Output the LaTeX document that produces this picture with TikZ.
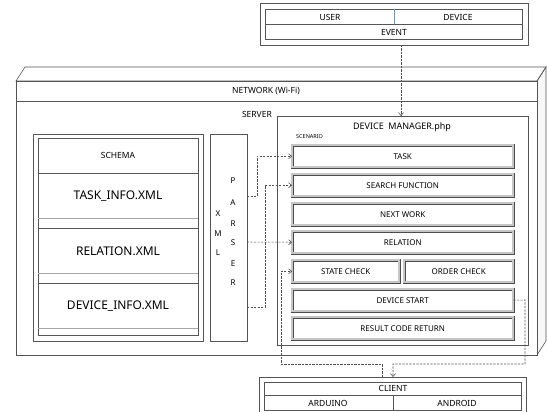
\documentclass[tikz,border=0pt]{standalone}
\usepackage{fontspec}
\setmainfont{Noto Sans}
\usetikzlibrary{arrows.meta}
\definecolor{lineC}{RGB}{85,85,85}
\definecolor{dashC}{RGB}{80,80,80}
\tikzset{
  box/.style={draw=lineC, line width=0.6pt, inner sep=0pt, anchor=north west},
  btn/.style={draw=black!70, double=gray!45, double distance=1.7pt, line width=0.5pt, inner sep=0pt, anchor=north west, minimum height=22pt, font=\fontsize{8}{9}\selectfont},
  lbl/.style={inner sep=0pt, font=\fontsize{8.5}{10}\selectfont, text=black},
  big/.style={inner sep=0pt, font=\fontsize{12}{14}\selectfont, text=black},
  conn/.style={draw=dashC, dash pattern=on 2.2pt off 1.3pt, line width=0.55pt},
  arr/.style={-{Straight Barb[length=3pt,width=5pt]}}
}
\begin{document}
\begin{tikzpicture}[x=1pt,y=-1pt]
\useasboundingbox (0,0) rectangle (547,412);
% EVENT box
\node[box, minimum width=268pt, minimum height=42pt] (evout) at (260,3) {};
\node[box, minimum width=257pt, minimum height=30pt] (evin) at (265,9) {};
\coordinate (evdl) at (265,24); \coordinate (evdr) at (522,24);
\draw[lineC, line width=0.6pt] (evdl) -- (evdr);
\coordinate (evvt) at (394,9); \coordinate (evvb) at (394,24);
\draw[color={rgb,255:red,100;green,150;blue,200}, line width=0.6pt] (evvt) -- (evvb);
\node[lbl] (user) at (330,17) {USER};
\node[lbl] (device) at (458,17) {DEVICE};
\node[lbl] (event) at (394,32) {EVENT};
% NETWORK 3D box
\coordinate (nfa) at (16,81); \coordinate (nfb) at (537,81);
\coordinate (nfc) at (537,355); \coordinate (nfd) at (16,355);
\coordinate (nba) at (25,67); \coordinate (nbb) at (546,67); \coordinate (nbc) at (546,341);
\draw[lineC, line width=0.6pt, fill=gray!6] (nfb) -- (nbb) -- (nbc) -- (nfc) -- cycle;
\draw[lineC, line width=0.6pt] (nfa) -- (nba) -- (nbb) -- (nfb) -- cycle;
\draw[lineC, line width=0.6pt, fill=white] (nfa) rectangle (nfc);
\coordinate (ndl) at (16,101); \coordinate (ndr) at (537,101);
\draw[lineC, line width=0.6pt] (ndl) -- (ndr);
\node[lbl] (network) at (266,91) {NETWORK (Wi-Fi)};
\node[lbl, anchor=east] (server) at (272,114) {SERVER};
% SCHEMA
\node[box, minimum width=170pt, minimum height=207pt] (schout) at (33,134) {};
\node[box, minimum width=160pt, minimum height=197pt] (schin) at (38,138) {};
\foreach \yy/\cc in {173/lineC,218/gray!70,228/lineC,273/gray!70,283/lineC,328/gray!70}{
  \draw[\cc, line width=0.6pt] (38,\yy) -- (198,\yy);
}
\node[lbl] (schema) at (118,155) {SCHEMA};
\node[big] (taskinfo) at (118,196) {TASK\_INFO.XML};
\node[big] (relxml) at (118,251) {RELATION.XML};
\node[big] (devinfo) at (118,306) {DEVICE\_INFO.XML};
% PARSER
\node[box, minimum width=37pt, minimum height=207pt] (parser) at (210,134) {};
\foreach \ch/\yy [count=\i] in {X/214,M/234,L/253}{
  \node[lbl, font=\fontsize{8}{9}\selectfont] (xml\i) at (218,\yy) {\ch};
}
\foreach \ch/\yy [count=\i] in {P/181,A/203,R/224,S/243,E/264,R/283}{
  \node[lbl, font=\fontsize{8}{9}\selectfont] (par\i) at (233,\yy) {\ch};
}
% DEVICE MANAGER
\node[box, minimum width=251pt, minimum height=229pt] (dm) at (277,116) {};
\node[lbl, font=\fontsize{9}{11}\selectfont] (dmt) at (402,127) {DEVICE\ \ MANAGER.php};
\node[lbl, anchor=west, font=\fontsize{5.5}{6}\selectfont] (scen) at (296,137) {SCENARIO};
\node[btn, minimum width=221pt] (task) at (292,145) {TASK};
\node[btn, minimum width=221pt] (search) at (292,174) {SEARCH FUNCTION};
\node[btn, minimum width=221pt] (next) at (292,203) {NEXT WORK};
\node[btn, minimum width=221pt] (relation) at (292,231) {RELATION};
\node[btn, minimum width=107pt] (state) at (292,260) {STATE CHECK};
\node[btn, minimum width=109pt] (order) at (404,260) {ORDER CHECK};
\node[btn, minimum width=221pt] (devstart) at (292,289) {DEVICE START};
\node[btn, minimum width=221pt] (result) at (292,317) {RESULT CODE RETURN};
% CLIENT
\node[box, minimum width=267pt, minimum height=40pt] (clout) at (259,377) {};
\node[box, minimum width=257pt, minimum height=28pt] (clin) at (264,382) {};
\coordinate (cdl) at (264,395); \coordinate (cdr) at (521,395);
\draw[lineC, line width=0.6pt] (cdl) -- (cdr);
\coordinate (cvt) at (393,395); \coordinate (cvb) at (393,410);
\draw[lineC, line width=0.6pt] (cvt) -- (cvb);
\node[lbl] (client) at (393,388) {CLIENT};
\node[lbl] (arduino) at (328,403) {ARDUINO};
\node[lbl] (android) at (457,403) {ANDROID};
% connectors
\coordinate (e1) at (401,45); \coordinate (e2) at (401,116);
\draw[conn, arr] (e1) -- (e2);
\coordinate (p1) at (247,196);
\draw[conn, arr] (p1) -- (257,196) |- (task.west);
\coordinate (p2) at (247,307);
\draw[conn, arr] (p2) -- (265,307) |- (search.west);
\coordinate (p3) at (247,242);
\draw[conn, arr] (p3) -- (relation.west);
\coordinate (c1) at (393,377);
\draw[conn, arr] (devstart.east) -- (525,300) -- (525,364) -- (393,364) -- (c1);
\coordinate (c2) at (382,377);
\draw[conn, arr] (c2) -- (382,364) -- (281,364) |- (state.west);
\end{tikzpicture}
\end{document}
